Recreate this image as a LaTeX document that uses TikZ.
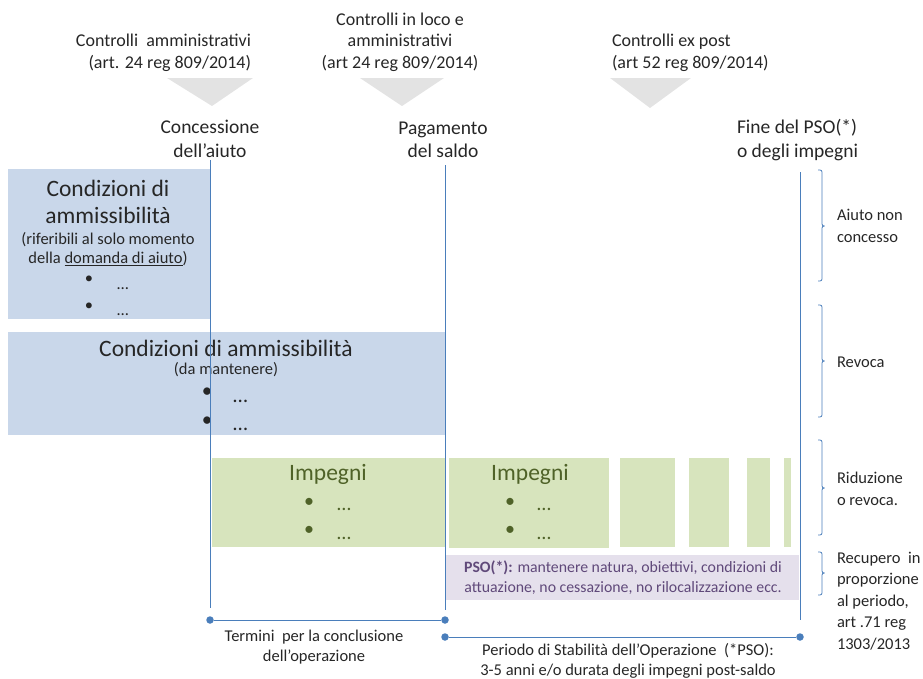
\documentclass[tikz,border=0pt]{standalone}
\usepackage{fontspec}
\setmainfont{Carlito}
\definecolor{lineblue}{HTML}{4A7EBB}
\definecolor{boxblue}{HTML}{C9D7EA}
\definecolor{boxgreen}{HTML}{D7E4BD}
\definecolor{boxpurple}{HTML}{E5E0EC}
\definecolor{trigray}{HTML}{E3E3E3}
\definecolor{txt}{HTML}{262626}
\definecolor{olivetxt}{HTML}{4F6228}
\definecolor{purpletxt}{HTML}{60497A}
\begin{document}
\begin{tikzpicture}[x=1pt,y=-1pt,
  every node/.style={inner sep=0pt,outer sep=0pt,text=txt},
  fsNorm/.style={font=\fontsize{18}{21.5}\selectfont},
  fsMile/.style={font=\fontsize{19.5}{23.5}\selectfont},
  fsTitle/.style={font=\fontsize{23.5}{27}\selectfont},
  fsSmall/.style={font=\fontsize{16.5}{19.5}\selectfont},
  fsSide/.style={font=\fontsize{16.5}{21.5}\selectfont},
  fsPso/.style={font=\fontsize{15.8}{20}\selectfont},
  fsBul/.style={font=\fontsize{21}{24}\selectfont},
  fsGBul/.style={font=\fontsize{20}{24}\selectfont,text=olivetxt},
  bluebox/.style={fill=boxblue,anchor=north west},
  greenbox/.style={fill=boxgreen,anchor=north west},
  psobox/.style={fill=boxpurple,anchor=north west},
  tri/.style={fill=trigray},
  conn/.style={draw=lineblue,line width=0.9pt},
  brace/.style={draw=lineblue,line width=0.8pt,rounded corners=2pt},
  dotnode/.style={circle,fill=lineblue,minimum size=7.5pt},
  blt/.style={anchor=center},
  ell/.style={anchor=base west}]
\useasboundingbox (0,0) rectangle (923,678);

% triangles
\fill[tri] (167,78) -- (253,78) -- (212,106) -- cycle;
\fill[tri] (360,78) -- (444,78) -- (402,106) -- cycle;
\fill[tri] (610,78) -- (691,78) -- (650,108) -- cycle;

% top labels
\node[fsNorm,align=right,anchor=east] (ctrlA) at (251,53) {Controlli\ \ amministrativi\\(art. 24 reg 809/2014)};
\node[fsNorm,align=center] (ctrlB) at (400,42) {Controlli in loco e\\amministrativi\\(art 24 reg 809/2014)};
\node[fsNorm,align=left,anchor=west] (ctrlC) at (612,53) {Controlli ex post\\(art 52 reg 809/2014)};

% milestones
\node[fsMile,align=center] (mConc) at (210,139) {Concessione\\dell’aiuto};
\node[fsMile,align=center] (mPag) at (443,140) {Pagamento\\del saldo};
\node[fsMile,align=left,anchor=west] (mFine) at (737,140) {Fine del PSO(*)\\o degli impegni};

% boxes
\node[bluebox,minimum width=202,minimum height=150] (cond1) at (8,169) {};
\node[bluebox,minimum width=437,minimum height=103] (cond2) at (8,332) {};
\node[greenbox,minimum width=233,minimum height=89] (impA) at (212,458) {};
\node[greenbox,minimum width=160,minimum height=90] (impB) at (449,458) {};
\node[greenbox,minimum width=55,minimum height=89] (impC) at (620,458) {};
\node[greenbox,minimum width=40,minimum height=89] (impD) at (689,458) {};
\node[greenbox,minimum width=23,minimum height=89] (impE) at (747,458) {};
\node[greenbox,minimum width=7,minimum height=89] (impF) at (784,458) {};
\node[psobox,minimum width=353,minimum height=45] (pso) at (446,555) {};

% box 1 text
\node[fsTitle,align=center] (c1title) at (108,202) {Condizioni di\\ammissibilità};
\node[fsSmall,align=center] (c1sub) at (108,249) {(riferibili al solo momento\\della \underline{domanda di aiuto})};
\node[fsSmall,blt] (c1b1) at (89,280) {•};
\node[fsSmall,ell] (c1e1) at (117,289) {…};
\node[fsSmall,blt] (c1b2) at (89,307) {•};
\node[fsSmall,ell] (c1e2) at (117,315) {…};

% box 2 text
\node[fsTitle] (c2title) at (226,348) {Condizioni di ammissibilità};
\node[fsSmall] (c2sub) at (226,370) {(da mantenere)};
\node[fsBul,blt] (c2b1) at (207,393) {•};
\node[fsBul,ell] (c2e1) at (233,402) {…};
\node[fsBul,blt] (c2b2) at (207,422) {•};
\node[fsBul,ell] (c2e2) at (233,430) {…};

% Impegni A
\node[fsTitle,text=olivetxt] (iAt) at (328,474) {Impegni};
\node[fsGBul,blt] (iAb1) at (309,503) {•};
\node[fsGBul,ell] (iAe1) at (337,510) {…};
\node[fsGBul,blt] (iAb2) at (309,531) {•};
\node[fsGBul,ell] (iAe2) at (337,539) {…};
% Impegni B
\node[fsTitle,text=olivetxt] (iBt) at (530,474) {Impegni};
\node[fsGBul,blt] (iBb1) at (510,503) {•};
\node[fsGBul,ell] (iBe1) at (537,510) {…};
\node[fsGBul,blt] (iBb2) at (510,531) {•};
\node[fsGBul,ell] (iBe2) at (537,539) {…};

% PSO text
\node[fsPso,align=center,text=purpletxt] (psotxt) at (623,578) {\textbf{PSO(*):} mantenere natura, obiettivi, condizioni di\\attuazione, no cessazione, no rilocalizzazione ecc.};

% vertical lines
\coordinate (vAtop) at (210,160);
\coordinate (vAbot) at (210,608);
\coordinate (vBtop) at (445,165);
\coordinate (vBbot) at (445,610);
\coordinate (vCtop) at (800,172);
\coordinate (vCbot) at (800,620);
\draw[conn] (vAtop) -- (vAbot);
\draw[conn] (vBtop) -- (vBbot);
\draw[conn] (vCtop) -- (vCbot);

% bottom period lines
\node[dotnode] (d1) at (210,620) {};
\node[dotnode] (d2) at (445,620) {};
\node[dotnode] (d3) at (445,637) {};
\node[dotnode] (d4) at (800,637) {};
\draw[conn] (d1) -- (d2);
\draw[conn] (d3) -- (d4);
\node[fsSmall,align=center] (term) at (314,647) {Termini\ \ per la conclusione\\dell’operazione};
\node[fsSmall,align=center] (period) at (628,661) {Periodo di Stabilità dell’Operazione\ \ (*PSO):\\3-5 anni e/o durata degli impegni post-saldo};

% braces
\draw[brace] (818,170) -- (822,170) -- (822,226) -- (826,226) -- (822,226) -- (822,281) -- (818,281);
\draw[brace] (818,305) -- (822,305) -- (822,361) -- (826,361) -- (822,361) -- (822,417) -- (818,417);
\draw[brace] (818,440) -- (822,440) -- (822,488) -- (826,488) -- (822,488) -- (822,535) -- (818,535);
\draw[brace] (818,552) -- (822,552) -- (822,573) -- (826,573) -- (822,573) -- (822,595) -- (818,595);

% side labels
\node[fsSide,align=left,anchor=west] (sA) at (837,226) {Aiuto non\\concesso};
\node[fsSide,anchor=west] (sB) at (837,362) {Revoca};
\node[fsSide,align=left,anchor=west] (sC) at (837,489) {Riduzione\\o revoca.};
\node[fsSide,align=left,anchor=west] (sD) at (837,601) {Recupero\ \ in\\proporzione\\al periodo,\\art .71 reg\\1303/2013};
\end{tikzpicture}
\end{document}
